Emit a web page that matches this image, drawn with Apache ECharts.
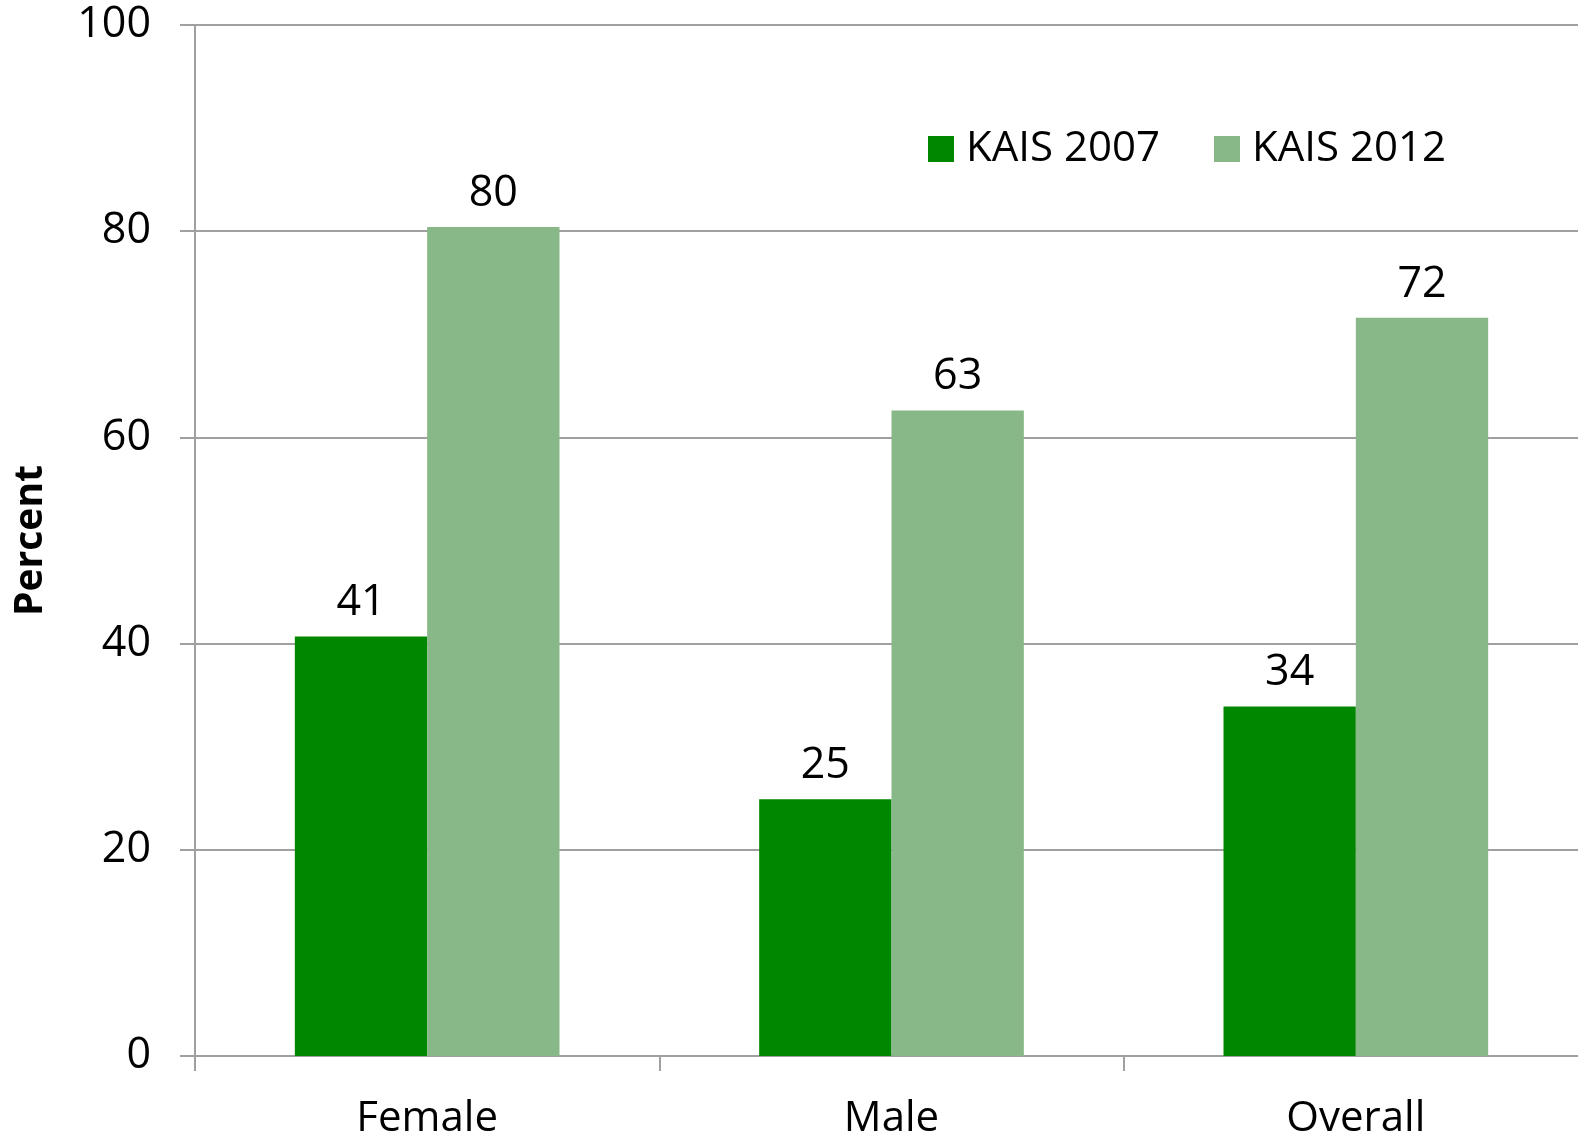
<!DOCTYPE html>
<html>
<head>
<meta charset="utf-8">
<script src="https://cdn.jsdelivr.net/npm/echarts@6/dist/echarts.min.js"></script>
<style>
  html, body { margin: 0; padding: 0; background: #fff; }
  #chart { width: 1578px; height: 1138px; }
</style>
</head>
<body>
<div id="chart"></div>
<script>
const categories = ["Female", "Male", "Overall"];
const kais2007 = [40.7, 24.9, 33.9];
const kais2012 = [80.4, 62.6, 71.6];
const yTicks = [0, 20, 40, 60, 80, 100];

const chart = echarts.init(document.getElementById("chart"));
const font = "'Open Sans', sans-serif";
const axisGray = "#a0a0a0";

// label rounded like the original
const labelOpt = {
  show: true,
  position: "top",
  distance: 12,
  fontFamily: font,
  fontSize: 43,
  color: "#000",
  formatter: (p) => Math.round(p.value),
};

chart.setOption({
  animation: false,
  textStyle: { fontFamily: font },
  grid: { left: 195, top: 25, bottom: 82, width: 1393, outerBoundsMode: "none", containLabel: false },
  legend: {
    left: 923,
    top: 123,
    itemWidth: 26,
    itemHeight: 26,
    itemGap: 54,
    icon: "rect",
    textStyle: { fontFamily: font, fontSize: 42, color: "#000", padding: [0, 0, 0, 7] },
    data: ["KAIS 2007", "KAIS 2012"],
  },
  xAxis: {
    type: "category",
    data: categories,
    axisLine: { lineStyle: { color: axisGray, width: 2 } },
    axisTick: { show: true, length: 15, lineStyle: { color: axisGray, width: 2 } },
    axisLabel: { margin: 42, fontFamily: font, fontSize: 42, color: "#000" },
  },
  yAxis: {
    type: "value",
    min: yTicks[0],
    max: yTicks[yTicks.length - 1],
    interval: 20,
    name: "Percent",
    nameLocation: "middle",
    nameGap: 145,
    nameRotate: 90,
    nameTextStyle: { fontFamily: font, fontSize: 39, fontWeight: "bold", color: "#000" },
    axisLine: { show: true, lineStyle: { color: axisGray, width: 2 } },
    axisTick: { show: true, length: 15, lineStyle: { color: axisGray, width: 2 } },
    axisLabel: { margin: 44, fontFamily: font, fontSize: 43, color: "#000" },
    splitLine: { lineStyle: { color: axisGray, width: 2 } },
  },
  series: [
    {
      name: "KAIS 2007",
      type: "bar",
      data: kais2007,
      itemStyle: { color: "#008700" },
      barGap: "0%",
      barCategoryGap: "43%",
      label: labelOpt,
    },
    {
      name: "KAIS 2012",
      type: "bar",
      data: kais2012,
      itemStyle: { color: "#88b887" },
      label: labelOpt,
    },
  ],
});
</script>
</body>
</html>
